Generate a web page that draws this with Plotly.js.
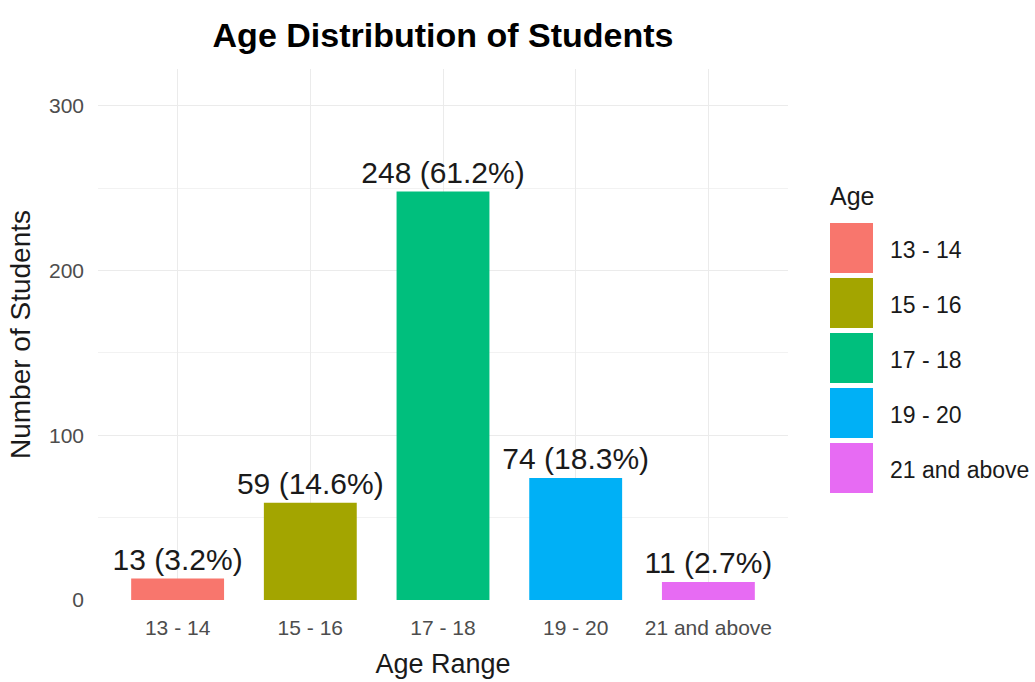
<!DOCTYPE html>
<html>
<head>
<meta charset="utf-8">
<script src="https://cdn.plot.ly/plotly-3.0.1.min.js"></script>
<style>
  html, body { margin: 0; padding: 0; background: #ffffff; }
  #chart { width: 1035px; height: 682px; }
</style>
</head>
<body>
<div id="chart"></div>
<script>
// ---- data ----
const categories = ["13 - 14", "15 - 16", "17 - 18", "19 - 20", "21 and above"];
const counts = [13, 59, 248, 74, 11];
const colors = ["#F8766D", "#A3A500", "#00BF7D", "#00B0F6", "#E76BF3"];
const yTicks = [0, 100, 200, 300];
const chartTitle = "Age Distribution of Students";
const xTitle = "Age Range";
const yTitle = "Number of Students";
const legendTitle = "Age";

// ---- derived labels ----
const total = counts.reduce((a, b) => a + b, 0);
const barLabels = counts.map(v => v + " (" + (100 * v / total).toFixed(1) + "%)");

const FONT = "Liberation Sans, Arial, sans-serif";

// geometry (pixels)
const W = 1035, H = 682;
const M = { l: 98, r: 247, t: 69, b: 82 };
const PW = W - M.l - M.r, PH = H - M.t - M.b;
const px2x = px => (px - M.l) / PW;
const py2y = py => (H - M.b - py) / PH;

const trace = {
  type: "bar",
  x: categories,
  y: counts,
  width: 0.7,
  marker: { color: colors, line: { width: 0 } },
  text: barLabels,
  textposition: "outside",
  constraintext: "none",
  cliponaxis: false,
  textfont: { family: FONT, size: 30, color: "#1a1a1a" },
  hoverinfo: "x+y",
  showlegend: false
};

// custom legend (ggplot-like large keys)
const shapes = [];
const annotations = [];
const keyX0 = 830, keyX1 = 873, keyTop = 223, keyH = 50, keyStep = 55;
categories.forEach((c, i) => {
  const top = keyTop + i * keyStep;
  shapes.push({
    type: "rect", xref: "paper", yref: "paper",
    x0: px2x(keyX0), x1: px2x(keyX1),
    y0: py2y(top + keyH), y1: py2y(top),
    fillcolor: colors[i], line: { width: 0 }
  });
  annotations.push({
    xref: "paper", yref: "paper",
    x: px2x(888), y: py2y(top + keyH / 2 + 2),
    xanchor: "left", yanchor: "middle",
    text: c, showarrow: false,
    font: { family: FONT, size: 23, color: "#1a1a1a" }
  });
});
annotations.push({
  xref: "paper", yref: "paper",
  x: px2x(828), y: py2y(196),
  xanchor: "left", yanchor: "middle",
  text: legendTitle, showarrow: false,
  font: { family: FONT, size: 25, color: "#1a1a1a" }
});

const layout = {
  width: W, height: H,
  margin: M,
  paper_bgcolor: "#ffffff",
  plot_bgcolor: "#ffffff",
  font: { family: FONT },
  title: {
    text: "<b>" + chartTitle + "</b>",
    font: { family: FONT, size: 34, color: "#000000" },
    x: 0.5, xref: "paper", xanchor: "center",
    y: 1 - 35 / H, yref: "container", yanchor: "middle"
  },
  xaxis: {
    type: "category",
    categoryorder: "array",
    categoryarray: categories,
    range: [-0.6, categories.length - 0.4],
    showgrid: true, gridcolor: "#ebebeb", gridwidth: 1.2,
    zeroline: false, showline: false, ticks: "",
    ticklabelstandoff: 13,
    tickfont: { family: FONT, size: 21, color: "#4d4d4d" },
    title: { text: xTitle, font: { family: FONT, size: 27, color: "#1a1a1a" }, standoff: 16 },
    fixedrange: true
  },
  yaxis: {
    range: [0, 322.4],
    tickvals: yTicks,
    showgrid: true, gridcolor: "#ebebeb", gridwidth: 1.2,
    minor: { dtick: 50, tick0: 0, showgrid: true, gridcolor: "#f2f2f2", gridwidth: 1, ticks: "" },
    zeroline: false, showline: false, ticks: "",
    ticklabelstandoff: 13,
    tickfont: { family: FONT, size: 21, color: "#4d4d4d" },
    title: { text: yTitle, font: { family: FONT, size: 28, color: "#1a1a1a" }, standoff: 10 },
    fixedrange: true
  },
  shapes: shapes,
  annotations: annotations,
  showlegend: false,
  bargap: 0.3
};

Plotly.newPlot("chart", [trace], layout, { displayModeBar: false, staticPlot: false });
</script>
</body>
</html>
